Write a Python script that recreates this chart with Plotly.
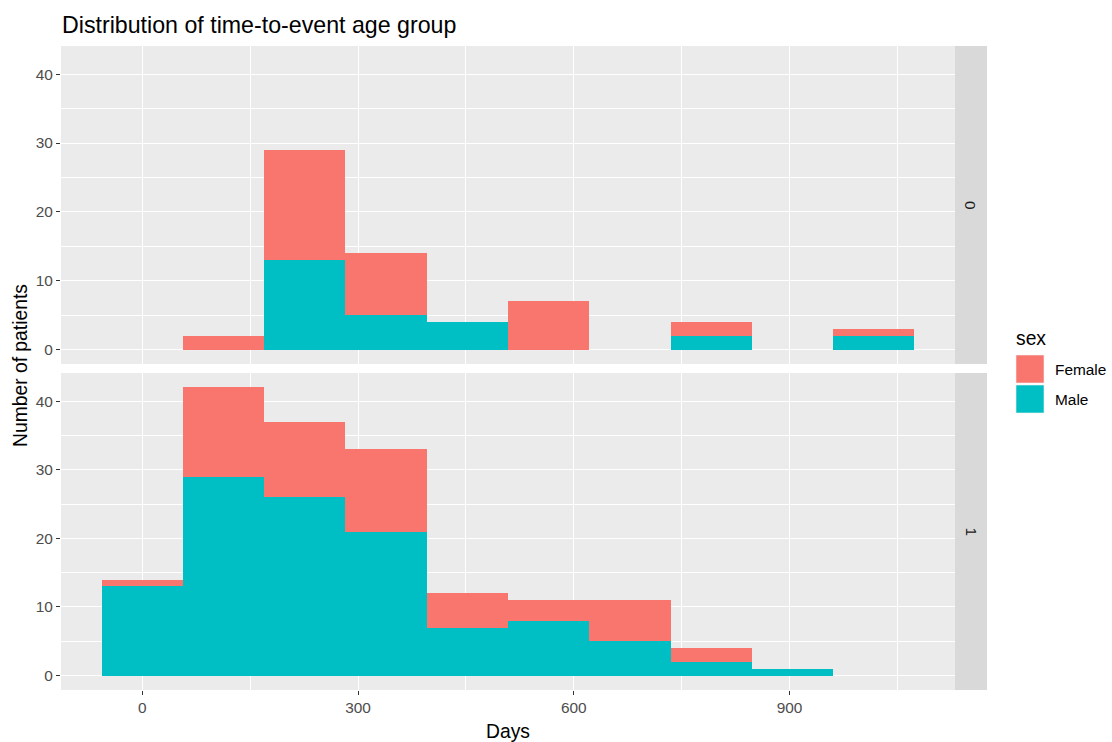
import plotly.graph_objects as go
from plotly.subplots import make_subplots

# Histogram bins (days): centres and common width
bin_centers = [0, 113, 226, 339, 452, 565, 678, 791, 904, 1017]
bin_width = 113

# Counts per bin, by facet (status) and sex
status0_male = [0, 0, 13, 5, 4, 0, 0, 2, 0, 2]
status0_female = [0, 2, 16, 9, 0, 7, 0, 2, 0, 1]
status1_male = [13, 29, 26, 21, 7, 8, 5, 2, 1, 0]
status1_female = [1, 13, 11, 12, 5, 3, 6, 2, 0, 0]

facet_labels = ["0", "1"]
sex_labels = ["Female", "Male"]
colors = {"Female": "#F8766D", "Male": "#00BFC4"}

FONT = "Liberation Sans, Arial, sans-serif"
SMALL = 15.4
MID = 19.3
BIG = 23.2

W, H = 1112, 742
ML, MR, MT, MB = 61, 157, 46, 52
plot_w = W - ML - MR
plot_h = H - MT - MB

def px_x(px):
    return (px - ML) / plot_w

def px_y(py):
    return (H - MB - py) / plot_h

fig = make_subplots(rows=2, cols=1, shared_xaxes=True)

panels = [(status0_male, status0_female), (status1_male, status1_female)]
for r, (male, female) in enumerate(panels, start=1):
    # Male first so it sits at the bottom of the stack
    for name, vals in (("Male", male), ("Female", female)):
        fig.add_trace(
            go.Bar(
                x=bin_centers,
                y=vals,
                width=[bin_width] * len(bin_centers),
                name=name,
                marker=dict(color=colors[name], line=dict(width=0)),
                showlegend=False,
            ),
            row=r,
            col=1,
        )

top_dom = [px_y(364), 1.0]
bot_dom = [0.0, px_y(373)]

axis_common = dict(
    showgrid=True,
    gridcolor="#FFFFFF",
    gridwidth=1.4,
    zeroline=False,
    showline=False,
    ticks="outside",
    ticklen=4,
    tickwidth=1.1,
    tickcolor="#333333",
    tickfont=dict(family=FONT, size=SMALL, color="#4D4D4D"),
)

fig.update_xaxes(
    range=[-113, 1130],
    tickvals=[0, 300, 600, 900],
    minor=dict(tickvals=[150, 450, 750, 1050], showgrid=True, gridcolor="#FFFFFF", gridwidth=0.7, ticks=""),
    **axis_common,
)
fig.update_xaxes(showticklabels=False, ticks="", row=1, col=1)
fig.update_yaxes(
    range=[-2.1, 44.1],
    tickvals=[0, 10, 20, 30, 40],
    minor=dict(tickvals=[5, 15, 25, 35], showgrid=True, gridcolor="#FFFFFF", gridwidth=0.7, ticks=""),
    **axis_common,
)
fig.update_layout(
    yaxis=dict(domain=top_dom),
    yaxis2=dict(domain=bot_dom),
    xaxis=dict(domain=[0, 1]),
    xaxis2=dict(domain=[0, 1]),
)

shapes = []
annotations = []

# Facet strips on the right-hand side
for lab, dom in zip(facet_labels, [top_dom, bot_dom]):
    shapes.append(dict(type="rect", xref="paper", yref="paper",
                       x0=1.0, x1=px_x(987), y0=dom[0], y1=dom[1],
                       fillcolor="#D9D9D9", line=dict(width=0), layer="below"))
    annotations.append(dict(text=lab, xref="paper", yref="paper",
                            x=(1.0 + px_x(987)) / 2, y=(dom[0] + dom[1]) / 2,
                            showarrow=False, textangle=90,
                            font=dict(family=FONT, size=SMALL, color="#1A1A1A"),
                            xanchor="center", yanchor="middle"))

# Legend drawn by hand: title, keys and labels
annotations.append(dict(text="sex", xref="paper", yref="paper",
                        x=px_x(1014), y=px_y(338), xanchor="left", yanchor="middle",
                        showarrow=False, font=dict(family=FONT, size=MID, color="#000000")))
key_tops = [355, 385]
for name, top in zip(sex_labels, key_tops):
    shapes.append(dict(type="rect", xref="paper", yref="paper",
                       x0=px_x(1016), x1=px_x(1044), y0=px_y(top + 28), y1=px_y(top),
                       fillcolor=colors[name], line=dict(width=0.6, color="#F2F2F2")))
    annotations.append(dict(text=name, xref="paper", yref="paper",
                            x=px_x(1053), y=px_y(top + 14), xanchor="left", yanchor="middle",
                            showarrow=False, font=dict(family=FONT, size=SMALL, color="#000000")))

# Axis titles
annotations.append(dict(text="Days", xref="paper", yref="paper",
                        x=0.5, y=px_y(731), xanchor="center", yanchor="middle",
                        showarrow=False, font=dict(family=FONT, size=MID, color="#000000")))
annotations.append(dict(text="Number of patients", xref="paper", yref="paper",
                        x=px_x(20), y=px_y(366), xanchor="center", yanchor="middle",
                        textangle=-90, showarrow=False,
                        font=dict(family=FONT, size=MID, color="#000000")))

fig.update_layout(
    width=W,
    height=H,
    margin=dict(l=ML, r=MR, t=MT, b=MB),
    paper_bgcolor="#FFFFFF",
    plot_bgcolor="#EBEBEB",
    barmode="stack",
    bargap=0,
    title=dict(text="Distribution of time-to-event age group",
               x=62 / W, xanchor="left",
               y=1 - 25 / H, yanchor="middle",
               font=dict(family=FONT, size=BIG, color="#000000")),
    shapes=shapes,
    annotations=annotations,
    showlegend=False,
)

fig.write_html("out.html")
